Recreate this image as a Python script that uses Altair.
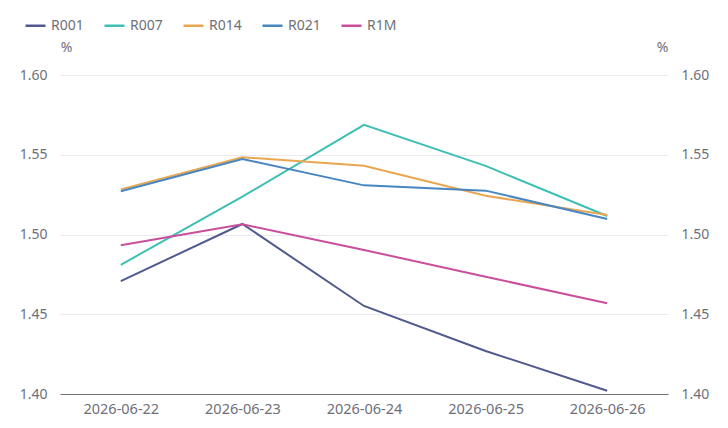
import altair as alt
import pandas as pd

dates = ["2026-06-22", "2026-06-23", "2026-06-24", "2026-06-25", "2026-06-26"]
series_names = ["R001", "R007", "R014", "R021", "R1M"]
r001 = [1.4708, 1.5066, 1.4552, 1.4270, 1.4020]
r007 = [1.4810, 1.5237, 1.5687, 1.5430, 1.5116]
r014 = [1.5283, 1.5484, 1.5431, 1.5243, 1.5122]
r021 = [1.5271, 1.5473, 1.5308, 1.5275, 1.5097]
r1m = [1.4932, 1.5064, 1.4903, 1.4735, 1.4569]
colors = ["#4f5a8e", "#3ebfb3", "#e9a650", "#4786c0", "#c94f9c"]
y_ticks = [1.40, 1.45, 1.50, 1.55, 1.60]

rows = []
for name, vals in zip(series_names, [r001, r007, r014, r021, r1m]):
    for d, v in zip(dates, vals):
        rows.append({"date": d, "series": name, "value": v})
df = pd.DataFrame(rows)

FONT = "Noto Sans"
LABEL_COLOR = "#6e7079"

x_enc = alt.X(
    "date:O",
    sort=dates,
    scale=alt.Scale(type="point", padding=0.5),
    axis=alt.Axis(
        title=None, labelAngle=0, ticks=False, domain=True,
        domainColor="#6e7079", domainWidth=1, labelColor=LABEL_COLOR,
        labelFontSize=14.5, labelPadding=8, labelFont=FONT, grid=False,
    ),
)

lines = alt.Chart(df).mark_line(strokeWidth=2).encode(
    x=x_enc,
    y=alt.Y(
        "value:Q",
        scale=alt.Scale(domain=[1.40, 1.60], nice=False, zero=False),
        axis=alt.Axis(
            values=y_ticks, format=".2f", title="%", titleAngle=0,
            titleX=6, titleY=-28, titleAlign="center", titleBaseline="middle",
            titleColor=LABEL_COLOR, titleFontSize=14, titleFontWeight="normal",
            titleFont=FONT, domain=False, ticks=False, labelColor=LABEL_COLOR,
            labelFontSize=14, labelPadding=13, labelFont=FONT,
            grid=True, gridColor="#e9e9ee", gridWidth=1,
        ),
    ),
    color=alt.Color(
        "series:N",
        sort=series_names,
        scale=alt.Scale(domain=series_names, range=colors),
        legend=alt.Legend(
            title=None, orient="none", direction="horizontal",
            legendX=-36, legendY=-61, symbolType="stroke", symbolSize=400,
            symbolStrokeWidth=2.5, labelFontSize=14, labelColor=LABEL_COLOR,
            labelFont=FONT, labelOffset=4, columnPadding=15,
        ),
    ),
)

right = alt.Chart(df).mark_line(opacity=0).encode(
    x=x_enc,
    y=alt.Y(
        "value:Q",
        scale=alt.Scale(domain=[1.40, 1.60], nice=False, zero=False),
        axis=alt.Axis(
            orient="right", values=y_ticks, format=".2f", title="%",
            titleAngle=0, titleX=-6, titleY=-28, titleAlign="center",
            titleBaseline="middle", titleColor=LABEL_COLOR, titleFontSize=14,
            titleFontWeight="normal", titleFont=FONT, domain=False,
            ticks=False, labelColor=LABEL_COLOR, labelFontSize=14,
            labelPadding=13, labelFont=FONT, grid=False,
        ),
    ),
)

chart = (
    alt.layer(lines, right)
    .resolve_scale(y="independent")
    .properties(
        width=608, height=319,
        background="white",
        autosize=alt.AutoSizeParams(type="none"),
        padding={"left": 60, "top": 75, "right": 60, "bottom": 34},
    )
    .configure_view(stroke="transparent", strokeWidth=0)
)

chart.save("out.html", embed_options={"renderer": "svg", "actions": False})
